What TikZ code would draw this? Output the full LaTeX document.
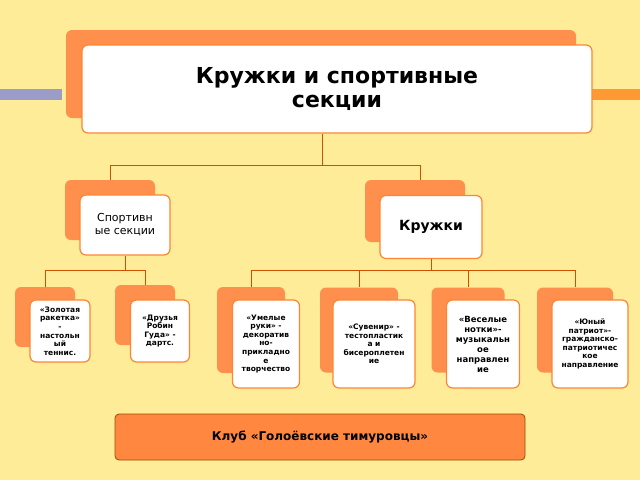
\documentclass[tikz,border=0pt]{standalone}
\usepackage{fontspec}
\setmainfont{DejaVu Sans}
\definecolor{bg}{RGB}{254,236,153}
\begin{document}
\begin{tikzpicture}[x=1pt,y=-1pt,
 back/.style={fill=orange!75!red!70!white,draw=none,rounded corners=6pt,inner sep=0},
 front/.style={fill=white,draw=orange!80!red!80!white,line width=1.2pt,rounded corners=6pt,align=center,inner sep=1pt,font=\bfseries\fontsize{7.5}{8.6}\selectfont},
 link/.style={draw=orange!80!red!80!black,line width=0.7pt}]
\fill[bg] (0,0) rectangle (640,480);
\useasboundingbox (0,0) rectangle (640,480);
\fill[blue!30!gray!60] (0,89) rectangle (62,100);
\fill[orange!80] (592,89) rectangle (640,100);
% top
\node[back,minimum width=510,minimum height=88] (tb) at (321,74) {};
\node[front,minimum width=510,minimum height=88,font=\bfseries\fontsize{22}{24}\selectfont] (tf) at (337,89) {Кружки и спортивные\\секции};
% mid
\node[back,minimum width=90,minimum height=60] (lb) at (110,210) {};
\node[front,minimum width=90,minimum height=60,font=\fontsize{11}{13}\selectfont] (lf) at (125,225) {Спортивн\\ые секции};
\node[back,minimum width=100,minimum height=62] (rb) at (415,211) {};
\node[front,minimum width=102,minimum height=63,font=\bfseries\fontsize{14}{16}\selectfont] (rf) at (431,227) {Кружки};
% bottom
\node[back,minimum width=60,minimum height=60] (b1) at (45,317) {};
\node[front,minimum width=60,minimum height=62] (f1) at (60,331) {«Золотая\\ракетка»\\-\\настольн\\ый\\теннис.};
\node[back,minimum width=60,minimum height=60] (b2) at (145,315) {};
\node[front,minimum width=59,minimum height=62] (f2) at (160,331) {«Друзья\\Робин\\Гуда» -\\дартс.};
\node[back,minimum width=68,minimum height=86] (b3) at (251,330) {};
\node[front,minimum width=67,minimum height=88] (f3) at (266,344) {«Умелые\\руки» -\\декоратив\\но-\\прикладно\\е\\творчество};
\node[back,minimum width=78,minimum height=85] (b4) at (359,330) {};
\node[front,minimum width=82,minimum height=88] (f4) at (374,344) {«Сувенир» -\\тестопластик\\а и\\бисероплетен\\ие};
\node[back,minimum width=73,minimum height=85] (b5) at (468,330) {};
\node[front,minimum width=73,minimum height=88,font=\bfseries\fontsize{8.5}{10}\selectfont] (f5) at (483,344) {«Веселые\\нотки»-\\музыкальн\\ое\\направлен\\ие};
\node[back,minimum width=76,minimum height=85] (b6) at (575,330) {};
\node[front,minimum width=76,minimum height=88] (f6) at (590,344) {«Юный\\патриот»-\\гражданско-\\патриотичес\\кое\\направление};
% club
\node[fill=orange!75!red!75!white,draw=orange!60!black,line width=0.8pt,rounded corners=4pt,minimum width=410,minimum height=46,font=\bfseries\fontsize{12}{14}\selectfont] (club) at (320,437) {Клуб «Голоёвские тимуровцы»};
% connectors
\coordinate (j1) at (322,165);
\draw[link] (tf.south -| j1) -- (j1) -- (j1 -| 110,0) -- (lb.north -| 110,0);
\draw[link] (j1) -- (j1 -| 420,0) -- (rb.north -| 420,0);
\coordinate (j2) at (125,270);
\draw[link] (lf.south) -- (j2);
\draw[link] (j2 -| b1.north) -- (j2 -| b2.north);
\draw[link] (j2 -| b1.north) -- (b1.north);
\draw[link] (j2 -| b2.north) -- (b2.north);
\coordinate (j3) at (431,270);
\draw[link] (rf.south) -- (j3);
\draw[link] (j3 -| b3.north) -- (j3 -| b6.north);
\foreach \b in {b3,b4,b5,b6} \draw[link] (j3 -| \b.north) -- (\b.north);
\end{tikzpicture}
\end{document}
